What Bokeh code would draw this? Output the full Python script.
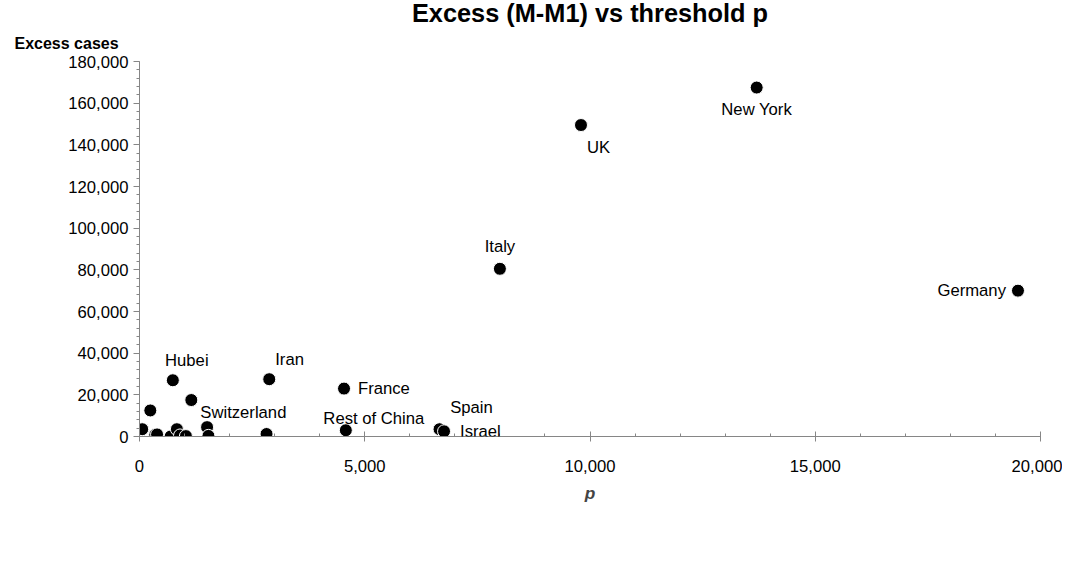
from bokeh.plotting import figure
from bokeh.models import ColumnDataSource, LabelSet, Title, NumeralTickFormatter, FixedTicker
from bokeh.core.properties import value
from bokeh.embed import file_html
from bokeh.resources import INLINE

names = ["", "", "", "", "", "Hubei", "", "", "", "Switzerland", "", "", "", "Iran", "France",
         "Rest of China", "Spain", "Israel", "Italy", "UK", "New York", "Germany"]
p_vals = [60, 240, 350, 390, 690, 740, 830, 900, 1030, 1150, 1500, 1530, 2820, 2880, 4540,
          4580, 6660, 6760, 8000, 9800, 13700, 19500]
excess = [3500, 12500, 800, 1000, 0, 27000, 3500, 500, 200, 17500, 4500, 300, 1200, 27500, 23000,
          3000, 3500, 2500, 80500, 149500, 167500, 70000]

# label placement (px): dx, dy, align
offsets = {"Hubei": (14, 20, "center"), "Switzerland": (9, -12, "left"), "Iran": (6, 20, "left"),
           "France": (14, 0, "left"), "Rest of China": (28, 12, "center"), "Spain": (32, 22, "center"),
           "Israel": (16, 0, "left"), "Italy": (0, 22, "center"), "UK": (6, -22, "left"),
           "New York": (0, -22, "center"), "Germany": (-12, 0, "right")}

src = ColumnDataSource(dict(x=p_vals, y=excess))
keep = [i for i in range(len(names)) if names[i]]
lab = ColumnDataSource(dict(
    x=[p_vals[i] for i in keep],
    y=[excess[i] for i in keep],
    name=[names[i] for i in keep],
    dx=[offsets[names[i]][0] for i in keep],
    dy=[offsets[names[i]][1] for i in keep],
    al=[offsets[names[i]][2] for i in keep]))

font = "Liberation Sans"

p = figure(width=1062, height=570, x_range=(0, 20000), y_range=(0, 180000),
           output_backend="svg", toolbar_location=None,
           min_border_left=139, min_border_right=22, min_border_top=0, min_border_bottom=134)
p.outline_line_color = None
p.xgrid.visible = False
p.ygrid.visible = False

p.add_layout(Title(text="Excess cases", align="left", offset=-125, text_font=font,
                   text_color="black", text_font_style="bold", text_font_size="12pt",
                   standoff=20), "above")
p.add_layout(Title(text="Excess (M-M1) vs threshold p", align="center", text_font=font,
                   text_color="black", text_font_style="bold", text_font_size="19pt",
                   standoff=-8), "above")

for ax in (p.xaxis[0], p.yaxis[0]):
    ax.axis_line_color = "#868686"
    ax.major_tick_line_color = "#868686"
    ax.minor_tick_line_color = "#868686"
    ax.major_label_text_font = font
    ax.major_label_text_font_size = "12.5pt"
    ax.major_label_text_color = "black"
    ax.formatter = NumeralTickFormatter(format="0,0")
p.xaxis.ticker = FixedTicker(ticks=[0, 5000, 10000, 15000, 20000],
                             minor_ticks=list(range(0, 20001, 1000)))
p.yaxis.ticker = FixedTicker(ticks=list(range(0, 180001, 20000)),
                             minor_ticks=list(range(0, 180001, 4000)))
p.xaxis.major_tick_in = 5
p.xaxis.major_tick_out = 5
p.xaxis.minor_tick_in = 3
p.xaxis.minor_tick_out = 0
p.yaxis.major_tick_in = 0
p.yaxis.major_tick_out = 6
p.yaxis.minor_tick_in = 0
p.yaxis.minor_tick_out = 3
p.xaxis.major_label_standoff = 18
p.xaxis.axis_label = "p"
p.xaxis.axis_label_text_font = font
p.xaxis.axis_label_text_font_style = "bold italic"
p.xaxis.axis_label_text_font_size = "13pt"
p.xaxis.axis_label_standoff = 8

p.scatter("x", "y", source=src, size=13, color="black", line_color="white", line_width=1)
p.add_layout(LabelSet(x="x", y="y", text="name", x_offset="dx", y_offset="dy", text_align="al",
                      text_baseline="middle", source=lab, text_font=value(font),
                      text_font_size="12.5pt", text_color="black"))

open("out.html", "w").write(file_html(p, INLINE))
